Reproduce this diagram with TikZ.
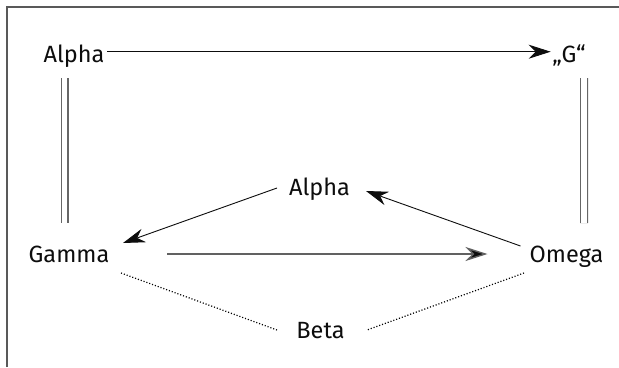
\documentclass[tikz,border=0pt]{standalone}
\usepackage{fontspec}
\setmainfont{Fira Sans}
\usetikzlibrary{arrows.meta}
\begin{document}
\begin{tikzpicture}[x=1bp,y=-1bp,
  lbl/.style={inner sep=0pt, anchor=base, text=black!95, font=\fontsize{23.5bp}{28bp}\selectfont},
  arr/.style={draw=black!95, line width=0.9bp, -{Stealth[length=22bp,width=14bp,inset=7bp]}},
  grayarr/.style={draw=black!62, line width=1.4bp, -{Stealth[length=22bp,width=14bp,inset=7bp,fill=black!95]}},
  dbl/.style={draw=black!60, line width=1.1bp, double=white, double distance=5.8bp},
  dots/.style={draw=black, line width=1.2bp, dash pattern=on 1.1bp off 1.9bp},
  frame/.style={draw=black!65, line width=1.4bp}]
\useasboundingbox (0,0) rectangle (619,367);
\draw[frame] (7,367) -- (7,7) -- (619,7);
\node[lbl] (A1) at (74,62) {Alpha};
\node[lbl] (G) at (569,62) {„G“};
\node[lbl] (Ga) at (69,262.7) {Gamma};
\node[lbl] (Om) at (566.5,262.7) {Omega};
\node[lbl] (A2) at (319.5,195) {Alpha};
\node[lbl] (Be) at (320.5,338) {Beta};
% top arrow
\draw[arr] ([shift={(33,-10.3)}]A1.base) -- ([shift={(-18.3,-10.3)}]G.base);
% double lines
\draw[dbl] ([shift={(-9.5,16)}]A1.base) -- ([shift={(-4.5,-39.7)}]Ga.base);
\draw[dbl] ([shift={(15,16)}]G.base) -- ([shift={(17.5,-39.7)}]Om.base);
% triangle arrows
\draw[arr] ([shift={(-42.5,-7)}]A2.base) -- ([shift={(54,-19.7)}]Ga.base);
\draw[arr] ([shift={(-46,-16.7)}]Om.base) -- ([shift={(46.5,-4)}]A2.base);
\draw[grayarr] ([shift={(98,-8.7)}]Ga.base) -- ([shift={(-79,-8.7)}]Om.base);
% dotted
\draw[dots] ([shift={(52,10.3)}]Ga.base) -- ([shift={(-43.5,-8)}]Be.base);
\draw[dots] ([shift={(-42.5,10.3)}]Om.base) -- ([shift={(46.5,-8)}]Be.base);
\end{tikzpicture}
\end{document}
